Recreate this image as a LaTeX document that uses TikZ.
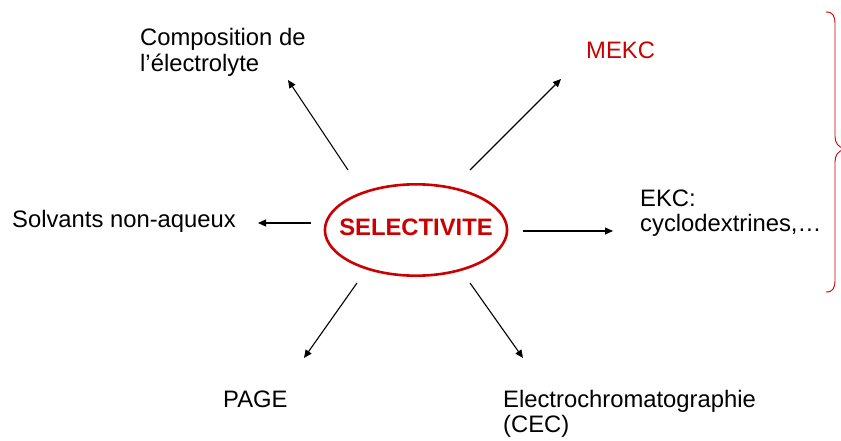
\documentclass[tikz,border=0pt]{standalone}
\usepackage{fontspec}
\setmainfont{Liberation Sans}
\usetikzlibrary{arrows.meta,shapes.geometric}
\definecolor{selred}{RGB}{204,0,0}
\tikzset{
  lbl/.style={anchor=base west, inner sep=0pt, font=\fontsize{23.8}{25}\selectfont},
  conn/.style={line width=1.1pt, -{Triangle[length=8pt,width=7pt]}},
  selnode/.style={ellipse, draw=selred, line width=2.6pt, minimum width=0pt, minimum height=0pt,
    inner xsep=-12.3pt, inner ysep=21pt, text depth=6pt, text=selred, font=\fontsize{23.8}{25}\selectfont\bfseries},
}
\begin{document}
\begin{tikzpicture}[x=1pt,y=-1pt]
\useasboundingbox (0,0) rectangle (841,441);
% central node
\node[selnode] (sel) at (416,230) {SELECTIVITE};
% labels
\node[lbl] (comp) at (140,46) {\begin{tabular}[t]{@{}l@{}}Composition de\\ l’électrolyte\end{tabular}};
\node[lbl, text=selred] (mekc) at (586,59) {MEKC};
\node[lbl] (solv) at (12,227) {Solvants non-aqueux};
\node[lbl] (ekc) at (640,206) {\begin{tabular}[t]{@{}l@{}}EKC:\\ cyclodextrines,…\end{tabular}};
\node[lbl] (page) at (223,407) {PAGE};
\node[lbl] (cec) at (503,407) {\begin{tabular}[t]{@{}l@{}}Electrochromatographie\\ (CEC)\end{tabular}};
% connector end points
\coordinate (s1) at (348,170); \coordinate (e1) at (288,80);
\coordinate (s2) at (470,170); \coordinate (e2) at (561,79);
\coordinate (s3) at (311,223); \coordinate (e3) at (258,223);
\coordinate (s4) at (523,231); \coordinate (e4) at (613,231);
\coordinate (s5) at (357,283); \coordinate (e5) at (304,358);
\coordinate (s6) at (470,283); \coordinate (e6) at (523,358);
\draw[conn] (s1) -- (e1);
\draw[conn] (s2) -- (e2);
\draw[conn] (s3) -- (e3);
\draw[conn] (s4) -- (e4);
\draw[conn] (s5) -- (e5);
\draw[conn] (s6) -- (e6);
% brace
\draw[selred, line width=0.9pt]
  (826,12) .. controls (833,12) and (835,16) .. (835,24)
  -- (835,136) .. controls (835,143) and (838,147) .. (845,149)
  .. controls (838,151) and (835,155) .. (835,162)
  -- (835,280) .. controls (835,288) and (833,292) .. (826,292);
\end{tikzpicture}
\end{document}
